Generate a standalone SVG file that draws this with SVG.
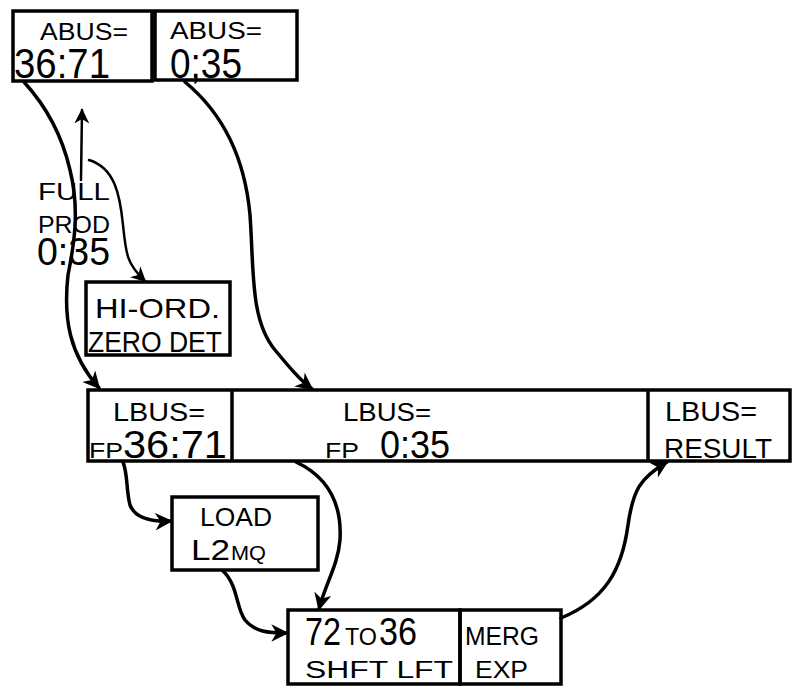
<svg xmlns="http://www.w3.org/2000/svg" width="804" height="694" viewBox="0 0 804 694">
<style>
.box{fill:none;stroke:#000;stroke-width:3.5}
.t{font-family:"Liberation Sans",Arial,sans-serif;fill:#000}
.c{fill:none;stroke:#000;stroke-width:3.5;stroke-linecap:round}
.thin{fill:none;stroke:#000;stroke-width:2.5;stroke-linecap:round}
</style>
<defs>
<marker id="ah" viewBox="0 0 10 10" refX="9" refY="5" markerWidth="5" markerHeight="5" markerUnits="strokeWidth" orient="auto">
<path d="M0,0 L10,5 L0,10 L3,5 Z" fill="#000"/>
</marker>
<marker id="ahs" viewBox="0 0 10 10" refX="9" refY="5" markerWidth="6" markerHeight="6" markerUnits="strokeWidth" orient="auto">
<path d="M0,0 L10,5 L0,10 L3,5 Z" fill="#000"/>
</marker>
</defs>
<rect width="804" height="694" fill="#fff"/>

<g id="abus1">
<rect class="box" x="13" y="11" width="139" height="70"/>
<text class="t" x="40" y="40" font-size="23" textLength="88" lengthAdjust="spacingAndGlyphs">ABUS=</text>
<text class="t" x="14" y="78" font-size="42" textLength="96" lengthAdjust="spacingAndGlyphs">36:71</text>
</g>
<g id="abus2">
<rect class="box" x="155" y="11" width="142" height="69"/>
<text class="t" x="170" y="39" font-size="23" textLength="92" lengthAdjust="spacingAndGlyphs">ABUS=</text>
<text class="t" x="170" y="78" font-size="42" textLength="72" lengthAdjust="spacingAndGlyphs">0;35</text>
</g>

<g id="fullprod">
<text class="t" x="38" y="200" font-size="24" textLength="72" lengthAdjust="spacingAndGlyphs">FULL</text>
<text class="t" x="38" y="233" font-size="24" textLength="72" lengthAdjust="spacingAndGlyphs">PROD</text>
<text class="t" x="37" y="265" font-size="38" textLength="73" lengthAdjust="spacingAndGlyphs">0:35</text>
</g>

<g id="hiord">
<rect class="box" x="86" y="282" width="144" height="73"/>
<text class="t" x="95" y="318" font-size="28" textLength="125" lengthAdjust="spacingAndGlyphs">HI-ORD.</text>
<text class="t" x="88" y="352" font-size="29" textLength="134" lengthAdjust="spacingAndGlyphs">ZERO DET</text>
</g>

<g id="lbus">
<rect class="box" x="88" y="390" width="702" height="71"/>
<line class="box" x1="232" y1="390" x2="232" y2="461"/>
<line class="box" x1="648" y1="390" x2="648" y2="461"/>
<text class="t" x="113" y="421" font-size="25" textLength="92" lengthAdjust="spacingAndGlyphs">LBUS=</text>
<text class="t" x="89" y="458" font-size="22" textLength="34" lengthAdjust="spacingAndGlyphs">FP</text>
<text class="t" x="123" y="458" font-size="39" textLength="104" lengthAdjust="spacingAndGlyphs">36:71</text>
<text class="t" x="343" y="421" font-size="25" textLength="88" lengthAdjust="spacingAndGlyphs">LBUS=</text>
<text class="t" x="325" y="458" font-size="22" textLength="34" lengthAdjust="spacingAndGlyphs">FP</text>
<text class="t" x="380" y="458" font-size="39" textLength="70" lengthAdjust="spacingAndGlyphs">0:35</text>
<text class="t" x="665" y="421" font-size="27" textLength="92" lengthAdjust="spacingAndGlyphs">LBUS=</text>
<text class="t" x="664" y="458" font-size="28" textLength="108" lengthAdjust="spacingAndGlyphs">RESULT</text>
</g>

<g id="load">
<rect class="box" x="172" y="497" width="146" height="73"/>
<text class="t" x="200" y="526" font-size="26" textLength="72" lengthAdjust="spacingAndGlyphs">LOAD</text>
<text class="t" x="191" y="560" font-size="29" textLength="39" lengthAdjust="spacingAndGlyphs">L2</text>
<text class="t" x="231" y="560" font-size="21" textLength="35" lengthAdjust="spacingAndGlyphs">MQ</text>
</g>

<g id="shift">
<rect class="box" x="288" y="610" width="172" height="74"/>
<text class="t" x="305" y="645" font-size="39" textLength="36" lengthAdjust="spacingAndGlyphs">72</text>
<text class="t" x="345" y="645" font-size="23" textLength="32" lengthAdjust="spacingAndGlyphs">TO</text>
<text class="t" x="379" y="645" font-size="39" textLength="38" lengthAdjust="spacingAndGlyphs">36</text>
<text class="t" x="305" y="678" font-size="23" textLength="148" lengthAdjust="spacingAndGlyphs">SHFT  LFT</text>
</g>
<g id="merg">
<rect class="box" x="460" y="610" width="101" height="74"/>
<text class="t" x="465" y="645" font-size="25" textLength="74" lengthAdjust="spacingAndGlyphs">MERG</text>
<text class="t" x="475" y="678" font-size="23" textLength="53" lengthAdjust="spacingAndGlyphs">EXP</text>
</g>

<g id="connectors">
<path class="c" d="M24,82 C45,105 62,135 70,170 C80,210 74,245 68,275 C63,320 70,355 99,388" marker-end="url(#ah)"/>
<path class="c" d="M185,82 C225,115 245,160 250,215 C254,270 250,320 275,350 C290,368 300,380 312,389" marker-end="url(#ah)"/>
<path class="thin" d="M81,180 L82,110" marker-end="url(#ahs)"/>
<path class="thin" d="M89,160 C115,168 120,195 123,225 C126,255 127,264 145,281" marker-end="url(#ahs)"/>
<path class="c" d="M123,462 C128,475 126,490 130,505 C135,518 150,522 171,521" marker-end="url(#ah)"/>
<path class="c" d="M296,462 C330,478 342,505 340,540 C338,565 325,585 319,609" marker-end="url(#ah)"/>
<path class="c" d="M223,571 C238,585 236,608 245,620 C255,632 268,633 287,633" marker-end="url(#ah)"/>
<path class="c" d="M561,618 C605,600 622,570 628,525 C633,490 640,478 667,462" marker-end="url(#ah)"/>
</g>
</svg>
